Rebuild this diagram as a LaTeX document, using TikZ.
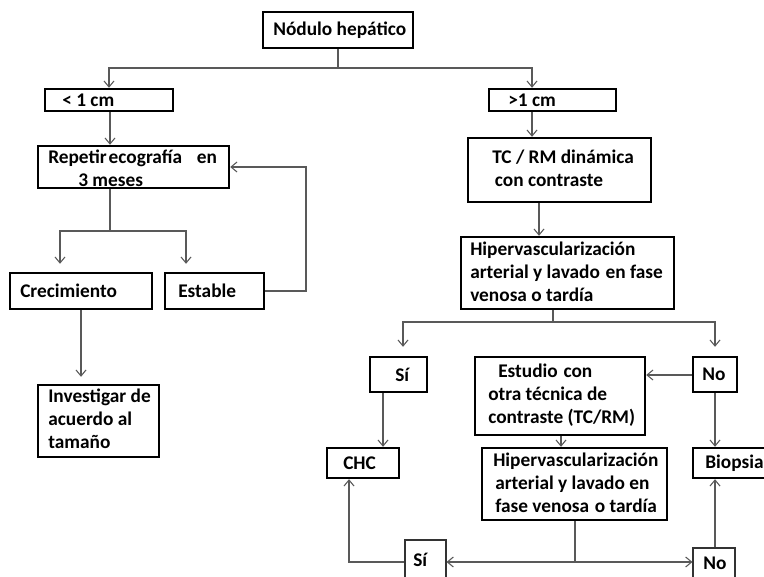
\documentclass[tikz,border=0pt]{standalone}
\usepackage{fontspec}
\setmainfont{Carlito}
\usetikzlibrary{arrows.meta}
\begin{document}
\begin{tikzpicture}[x=0.75pt,y=-0.75pt,
  bx/.style 2 args={draw=black, line width=1.8pt, minimum width=#1*0.75pt, minimum height=#2*0.75pt, inner sep=0pt},
  thinbx/.style 2 args={draw=black!80, line width=0.8pt, minimum width=#1*0.75pt, minimum height=#2*0.75pt, inner sep=0pt},
  txt/.style={anchor=west, inner sep=0pt, align=left, font=\fontsize{14.5}{17.25}\selectfont\bfseries},
  ln/.style={draw=black!65, line width=0.8pt},
  arr/.style={ln, -{Straight Barb[length=4.5pt,width=7.5pt]}},
]
\clip (0,0) rectangle (764,577);
\fill[white] (0,0) rectangle (764,577);

% boxes
\node[bx={150}{36}] (nod) at (338,30) {};
\node[bx={128}{22}] (lt1) at (109,100) {};
\node[bx={127}{22}] (gt1) at (552.5,100) {};
\node[bx={191}{42}] (rep) at (133.5,167) {};
\node[bx={183}{64}] (tc) at (559.5,170) {};
\node[bx={213}{72}] (hip) at (567.5,273) {};
\node[bx={142}{36}] (cre) at (81,291) {};
\node[bx={99}{36}] (est) at (214.5,291) {};
\node[bx={121}{72}] (inv) at (98.5,421) {};
\node[bx={57}{35}] (si1) at (398.5,374.5) {};
\node[bx={44}{35}] (no1) at (715,374.5) {};
\node[bx={170}{78}] (estu) at (560,396) {};
\node[bx={72}{30}] (chc) at (363,463) {};
\node[bx={185}{72}] (hip2) at (574.5,484) {};
\node[bx={82}{30}] (bio) at (734,463) {};
\node[thinbx={41}{55}] (si2) at (425.5,567.5) {};
\node[thinbx={42}{52}] (no2) at (714,574) {};

% texts
\node[txt] (tnod) at (273,30) {Nódulo hepático};
\node[txt] (tlt1) at (62,100) {< 1 cm};
\node[txt] (tgt1) at (508,100) {>1 cm};
\node[txt] (trep) at (48,168.5) {Repetir\hspace{1.5pt}ecografía\hspace{11pt}en\\\hspace{22.5pt}3 meses};
\node[txt] (ttc) at (492,168.5) {TC / RM dinámica\\\hspace{2pt}con contraste};
\node[txt] (thip) at (470,271.5) {Hipervascularización\\arterial y lavado\hspace{1pt} en fase\\venosa o tardía};
\node[txt] (tcre) at (20,291) {Crecimiento};
\node[txt] (test) at (178,291) {Estable};
\node[txt] (tinv) at (48,419) {Investigar de\\acuerdo al\\tamaño};
\node[txt] (tsi1) at (395,374.5) {Sí};
\node[txt] (tno1) at (702,374.5) {No};
\node[txt] (testu) at (488,395) {\hspace{7.5pt}Estudio\hspace{1pt} con\\otra técnica de\\contraste (TC/RM)};
\node[txt] (tchc) at (343,463) {CHC};
\node[txt] (thip2) at (493,483) {Hipervascularización\\\hspace{1.5pt}arterial y lavado en\\\hspace{1.5pt}fase venosa\hspace{1pt} o tardía};
\node[txt] (tbio) at (705,463) {Biopsia};
\node[txt] (tsi2) at (413,560) {Sí};
\node[txt] (tno2) at (703,563) {No};

% helper coordinates
\coordinate (j1) at (338,68);
\coordinate (cgt) at (532,0);
\coordinate (clt) at (110,0);
\coordinate (ctc) at (539,0);
\coordinate (j2) at (110,231);
\coordinate (ccre) at (60,0);
\coordinate (cest) at (186,0);
\coordinate (cfb) at (306,0);
\coordinate (cinv) at (81,0);
\coordinate (j3) at (553,322);
\coordinate (csi) at (403,0);
\coordinate (cno) at (715,0);
\coordinate (csic) at (383,0);
\coordinate (cest2) at (561,0);
\coordinate (j4) at (575,562);
\coordinate (cchc) at (349,0);
\coordinate (yno) at (0,375);

% connectors
\draw[ln] (nod.south) -- (j1);
\draw[arr] (j1) -| (lt1.north);
\draw[arr] (j1) -| (cgt |- gt1.north);
\draw[arr] (clt |- lt1.south) -- (clt |- rep.north);
\draw[arr] (cgt |- gt1.south) -- (cgt |- tc.north);
\draw[arr] (ctc |- tc.south) -- (ctc |- hip.north);
\draw[ln] (clt |- rep.south) -- (j2);
\draw[arr, shorten >=8*0.75pt] (j2) -| (ccre |- cre.north);
\draw[arr, shorten >=8*0.75pt] (j2) -| (cest |- est.north);
\draw[arr] (est.east) -| (cfb |- rep.east) -- (rep.east);
\draw[arr, shorten >=7*0.75pt] (cinv |- cre.south) -- (cinv |- inv.north);
\draw[ln] (j3 |- hip.south) -- (j3);
\draw[arr, shorten >=9*0.75pt] (j3) -| (csi |- si1.north);
\draw[arr, shorten >=9*0.75pt] (j3) -| (cno |- no1.north);
\draw[arr] (csic |- si1.south) -- (csic |- chc.north);
\draw[arr] (cno |- no1.south) -- (cno |- bio.north);
\draw[arr] (no1.west |- yno) -- (estu.east |- yno);
\draw[arr] (cest2 |- estu.south) -- (cest2 |- hip2.north);
\draw[ln] (j4 |- hip2.south) -- (j4);
\draw[arr] (j4) -- (j4 -| si2.east);
\draw[arr] (j4) -- (j4 -| no2.west);
\draw[arr] (si2.west |- j4) -| (cchc |- chc.south);
\draw[arr] (cno |- no2.north) -- (cno |- bio.south);
\end{tikzpicture}
\end{document}
